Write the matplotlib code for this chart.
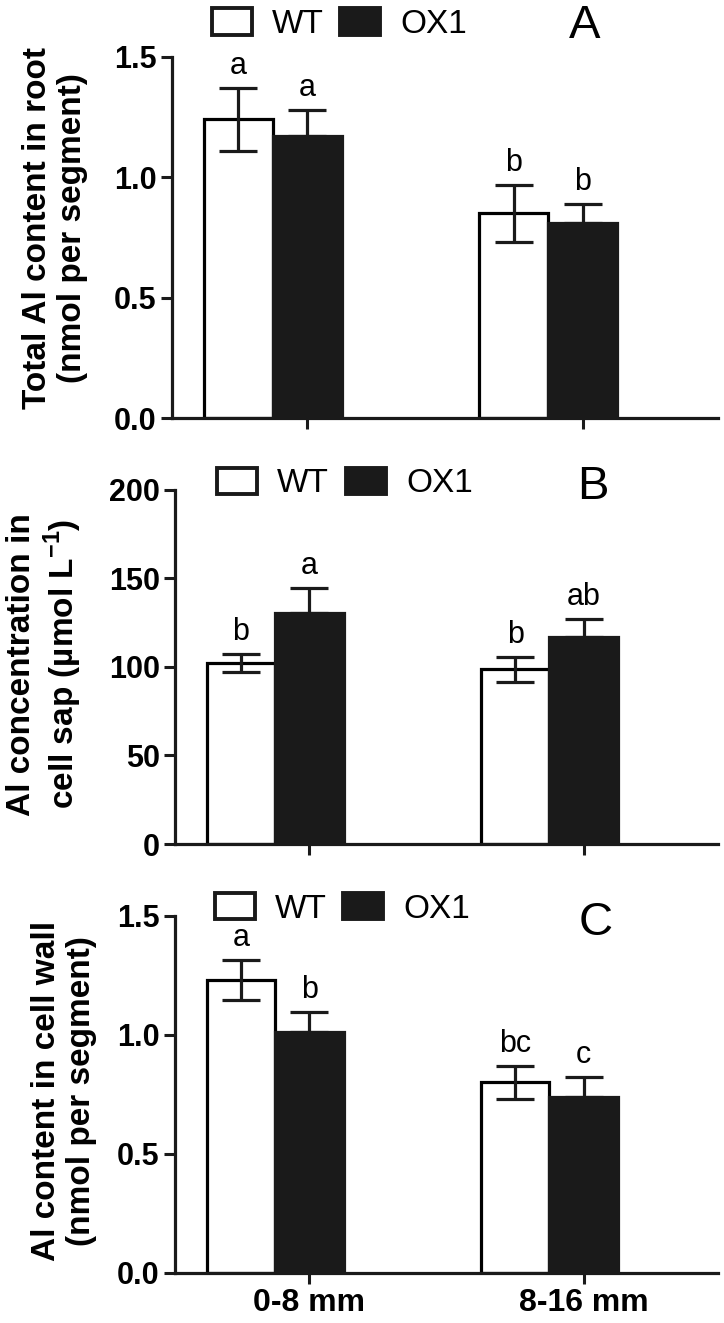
import matplotlib
matplotlib.use("Agg")
import matplotlib.pyplot as plt
from matplotlib.patches import Patch

plt.rcParams["font.family"] = ["Liberation Sans", "DejaVu Sans"]
plt.rcParams["mathtext.fontset"] = "custom"
plt.rcParams["mathtext.rm"] = "Liberation Sans"
plt.rcParams["mathtext.bf"] = "Liberation Sans:bold"

groups = ["0-8 mm", "8-16 mm"]

# panel A: total Al content in root
wt_total = [1.24, 0.85]
wt_total_se = [0.13, 0.12]
ox_total = [1.17, 0.81]
ox_total_se = [0.11, 0.08]
wt_total_letters = ["a", "b"]
ox_total_letters = ["a", "b"]

# panel B: Al concentration in cell sap
wt_sap = [102, 98.5]
wt_sap_se = [5, 7]
ox_sap = [130.5, 117]
ox_sap_se = [14, 10]
wt_sap_letters = ["b", "b"]
ox_sap_letters = ["a", "ab"]

# panel C: Al content in cell wall
wt_wall = [1.23, 0.80]
wt_wall_se = [0.085, 0.07]
ox_wall = [1.01, 0.74]
ox_wall_se = [0.087, 0.083]
wt_wall_letters = ["a", "bc"]
ox_wall_letters = ["b", "c"]

fig = plt.figure(figsize=(7.24, 13.23), dpi=100)

panels = [
    dict(rect=[0.2376, 0.684, 0.754, 0.273], wt=wt_total, wse=wt_total_se, ox=ox_total, ose=ox_total_se,
         wl=wt_total_letters, ol=ox_total_letters, ymax=1.5, ticks=[0, 0.5, 1.0, 1.5], fmt="{:.1f}",
         ylabel="Total Al content in root\n(nmol per segment)", lab=(-0.154, 0.526),
         leg=(0.073, 1.091), tag="A", tagpos=(0.755, 1.085)),
    dict(rect=[0.2417, 0.362, 0.750, 0.268], wt=wt_sap, wse=wt_sap_se, ox=ox_sap, ose=ox_sap_se,
         wl=wt_sap_letters, ol=ox_sap_letters, ymax=200, ticks=[0, 50, 100, 150, 200], fmt="{:.0f}",
         ylabel="Al concentration in\ncell sap (µmol L$^{\\mathbf{-1}}$)", lab=(-0.168, 0.507),
         leg=(0.078, 1.017), tag="B", tagpos=(0.77, 1.006)),
    dict(rect=[0.2417, 0.0378, 0.750, 0.270], wt=wt_wall, wse=wt_wall_se, ox=ox_wall, ose=ox_wall_se,
         wl=wt_wall_letters, ol=ox_wall_letters, ymax=1.5, ticks=[0, 0.5, 1.0, 1.5], fmt="{:.1f}",
         ylabel="Al content in cell wall\n(nmol per segment)", lab=(-0.144, 0.51),
         leg=(0.073, 1.02), tag="C", tagpos=(0.775, 0.98)),
]

x = list(range(len(groups)))
w = 0.25
lw = 2.3

for i, p in enumerate(panels):
    ax = fig.add_axes(p["rect"])
    xw = [v - w for v in x]
    ax.bar(xw, p["wt"], width=w, color="white", edgecolor="black", linewidth=lw, zorder=2)
    ax.bar(x, p["ox"], width=w, color="#1a1a1a", edgecolor="#1a1a1a", linewidth=lw, zorder=2)
    ax.errorbar(xw, p["wt"], yerr=p["wse"], fmt="none", ecolor="#1a1a1a", elinewidth=lw,
                capsize=14, capthick=lw, zorder=3)
    ax.errorbar(x, p["ox"], yerr=[[0] * len(x), p["ose"]], fmt="none", ecolor="#1a1a1a",
                elinewidth=lw, capsize=14, capthick=lw, zorder=3)
    for j in range(len(x)):
        ax.annotate(p["wl"][j], (xw[j], p["wt"][j] + p["wse"][j]), xytext=(0, 5),
                    textcoords="offset points", ha="center", va="bottom", fontsize=22)
        ax.annotate(p["ol"][j], (x[j], p["ox"][j] + p["ose"][j]), xytext=(0, 5),
                    textcoords="offset points", ha="center", va="bottom", fontsize=22)

    ax.set_xlim(-0.49, 1.49)
    ax.set_ylim(0, p["ymax"])
    ax.set_yticks(p["ticks"])
    ax.set_yticklabels([p["fmt"].format(t) for t in p["ticks"]], fontsize=22, fontweight="bold")
    ax.set_xticks(x)
    if i == 2:
        ax.set_xticklabels(groups, fontsize=23, fontweight="bold")
    else:
        ax.set_xticklabels([])
    ax.tick_params(axis="both", length=8, width=2.2, color="#1a1a1a", pad=3)
    for s in ["top", "right"]:
        ax.spines[s].set_visible(False)
    for s in ["left", "bottom"]:
        ax.spines[s].set_linewidth(2.3)
        ax.spines[s].set_color("#1a1a1a")

    ax.set_ylabel(p["ylabel"], fontsize=24, fontweight="bold", linespacing=1.15)
    ax.yaxis.set_label_coords(*p["lab"])

    handles = [Patch(facecolor="white", edgecolor="#1a1a1a", linewidth=2.8, label="WT"),
               Patch(facecolor="#1a1a1a", edgecolor="#1a1a1a", linewidth=2.8, label="OX1")]
    ax.legend(handles=handles, loc="center left", bbox_to_anchor=p["leg"], ncol=2, frameon=False,
              fontsize=24, handlelength=1.2, handleheight=0.85, handletextpad=0.6,
              columnspacing=0.5, borderaxespad=0, borderpad=0)
    ax.text(p["tagpos"][0], p["tagpos"][1], p["tag"], transform=ax.transAxes, fontsize=34,
            ha="center", va="center")

fig.savefig("out.png", dpi=100)
